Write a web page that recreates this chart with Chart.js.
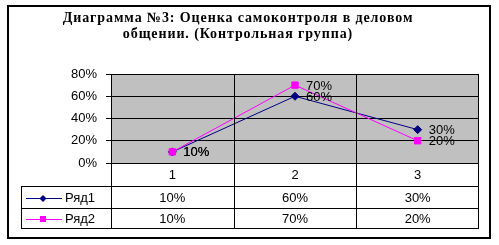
<!DOCTYPE html>
<html>
<head>
<meta charset="utf-8">
<script src="https://cdn.jsdelivr.net/npm/chart.js@4/dist/chart.umd.min.js"></script>
<style>
  body { margin: 0; background: #fff; }
  canvas { display: block; }
</style>
</head>
<body>
<canvas id="chart" width="499" height="245"></canvas>
<script>
// data
const categories = ['1', '2', '3'];
const seriesNames = ['Ряд1', 'Ряд2'];
const row1 = [0.10, 0.60, 0.30];
const row2 = [0.10, 0.70, 0.20];
const yTicks = [0, 0.2, 0.4, 0.6, 0.8];
const titleLines = ['Диаграмма №3: Оценка самоконтроля в деловом', 'общении. (Контрольная группа)'];

const pct = v => Math.round(v * 100) + '%';
const sansFont = '13px "Liberation Sans", Arial, sans-serif';

// grey plot area, title, outer frame
const backdrop = {
    id: 'backdrop',
    beforeDraw(chart) {
        const { ctx, chartArea: a } = chart;
        ctx.save();
        ctx.fillStyle = '#fff';
        ctx.fillRect(0, 0, chart.width, chart.height);
        ctx.fillStyle = '#c0c0c0';
        ctx.fillRect(a.left, a.top, a.right - a.left, a.bottom - a.top);
        ctx.strokeStyle = '#000';
        ctx.lineWidth = 2;
        ctx.strokeRect(8, 6, 482, 232);
        ctx.fillStyle = '#000';
        ctx.font = 'bold 14px "Liberation Serif", "Times New Roman", serif';
        ctx.letterSpacing = '0.9px';
        ctx.textAlign = 'center';
        ctx.textBaseline = 'middle';
        titleLines.forEach((t, i) => ctx.fillText(t, 238, 18 + i * 16));
        ctx.restore();
    }
};

// category separators + data table under the plot
const dataTable = {
    id: 'dataTable',
    afterDatasetsDraw(chart) {
        const { ctx, chartArea: a, scales: { x } } = chart;
        const half = (x.getPixelForValue(1) - x.getPixelForValue(0)) / 2;
        const rowH = [23, 22, 20];
        const y0 = a.bottom, y1 = y0 + rowH[0], y2 = y1 + rowH[1], y3 = y2 + rowH[2];
        const tableLeft = 21.5;
        ctx.save();
        ctx.strokeStyle = '#000';
        ctx.lineWidth = 1;
        ctx.beginPath();
        // plot border
        ctx.moveTo(a.left + 0.5, a.top); ctx.lineTo(a.left + 0.5, y3);
        ctx.moveTo(a.right - 0.5, a.top); ctx.lineTo(a.right - 0.5, y3);
        categories.forEach((c, i) => {
            if (i === 0) return;
            const px = Math.round(x.getPixelForValue(i) - half) + 0.5;
            ctx.moveTo(px, a.top); ctx.lineTo(px, y3);
        });
        ctx.moveTo(a.left, y0 + 0.5); ctx.lineTo(a.right, y0 + 0.5);
        [y1, y2, y3].forEach(yy => { ctx.moveTo(tableLeft, yy + 0.5); ctx.lineTo(a.right, yy + 0.5); });
        ctx.moveTo(tableLeft, y1); ctx.lineTo(tableLeft, y3 + 1);
        ctx.stroke();

        ctx.fillStyle = '#000';
        ctx.font = sansFont;
        ctx.textAlign = 'center';
        ctx.textBaseline = 'middle';
        categories.forEach((c, i) => ctx.fillText(c, x.getPixelForValue(i), (y0 + y1) / 2 + 1));
        const rows = [row1, row2];
        const mids = [(y1 + y2) / 2 + 1, (y2 + y3) / 2 + 1];
        rows.forEach((r, k) => {
            r.forEach((v, i) => ctx.fillText(pct(v), x.getPixelForValue(i), mids[k]));
            // legend key
            const ds = chart.data.datasets[k];
            ctx.strokeStyle = ds.borderColor;
            ctx.beginPath();
            ctx.moveTo(26, Math.round(mids[k]) + 0.5);
            ctx.lineTo(62, Math.round(mids[k]) + 0.5);
            ctx.stroke();
            ctx.fillStyle = ds.borderColor;
            const cy = Math.round(mids[k]) + 0.5;
            if (k === 0) {
                ctx.beginPath();
                ctx.moveTo(43, cy - 3.5); ctx.lineTo(46.5, cy); ctx.lineTo(43, cy + 3.5); ctx.lineTo(39.5, cy);
                ctx.closePath(); ctx.fill();
            } else {
                ctx.fillRect(40, cy - 3.5, 6, 6);
            }
            ctx.fillStyle = '#000';
            ctx.textAlign = 'left';
            ctx.fillText(seriesNames[k], 65, mids[k]);
            ctx.textAlign = 'center';
        });
        ctx.restore();
    }
};

// value labels to the right of each point
const pointLabels = {
    id: 'pointLabels',
    afterDatasetsDraw(chart) {
        const { ctx } = chart;
        ctx.save();
        ctx.fillStyle = '#000';
        ctx.font = sansFont;
        ctx.textAlign = 'left';
        ctx.textBaseline = 'middle';
        chart.data.datasets.forEach((ds, k) => {
            chart.getDatasetMeta(k).data.forEach((pt, i) => {
                ctx.fillText(pct(ds.data[i]), pt.x + 11, pt.y + 1);
            });
        });
        ctx.restore();
    }
};

new Chart(document.getElementById('chart').getContext('2d'), {
    type: 'line',
    data: {
        labels: categories,
        datasets: [{
            label: seriesNames[0],
            data: row1,
            borderColor: '#000080',
            backgroundColor: '#000080',
            borderWidth: 1,
            pointStyle: 'rectRot',
            pointRadius: 4,
            tension: 0,
            order: 1
        }, {
            label: seriesNames[1],
            data: row2,
            borderColor: '#ff00ff',
            backgroundColor: '#ff00ff',
            borderWidth: 1,
            pointStyle: 'rect',
            pointRadius: 4.5,
            tension: 0,
            order: 0
        }]
    },
    options: {
        responsive: false,
        animation: false,
        layout: { padding: { top: 74, bottom: 82, left: 0, right: 20 } },
        plugins: { legend: { display: false }, title: { display: false }, tooltip: { enabled: false } },
        scales: {
            x: { type: 'category', offset: true, display: false },
            y: {
                min: 0,
                max: 0.8,
                afterFit(scale) { scale.width = 111; },
                afterBuildTicks(scale) { scale.ticks = yTicks.map(v => ({ value: v })); },
                border: { display: false },
                grid: { color: '#000', lineWidth: 1, tickLength: 5 },
                ticks: {
                    color: '#000',
                    padding: 9,
                    font: { family: '"Liberation Sans", Arial, sans-serif', size: 13 },
                    callback: v => pct(v)
                }
            }
        }
    },
    plugins: [backdrop, dataTable, pointLabels]
});
</script>
</body>
</html>
